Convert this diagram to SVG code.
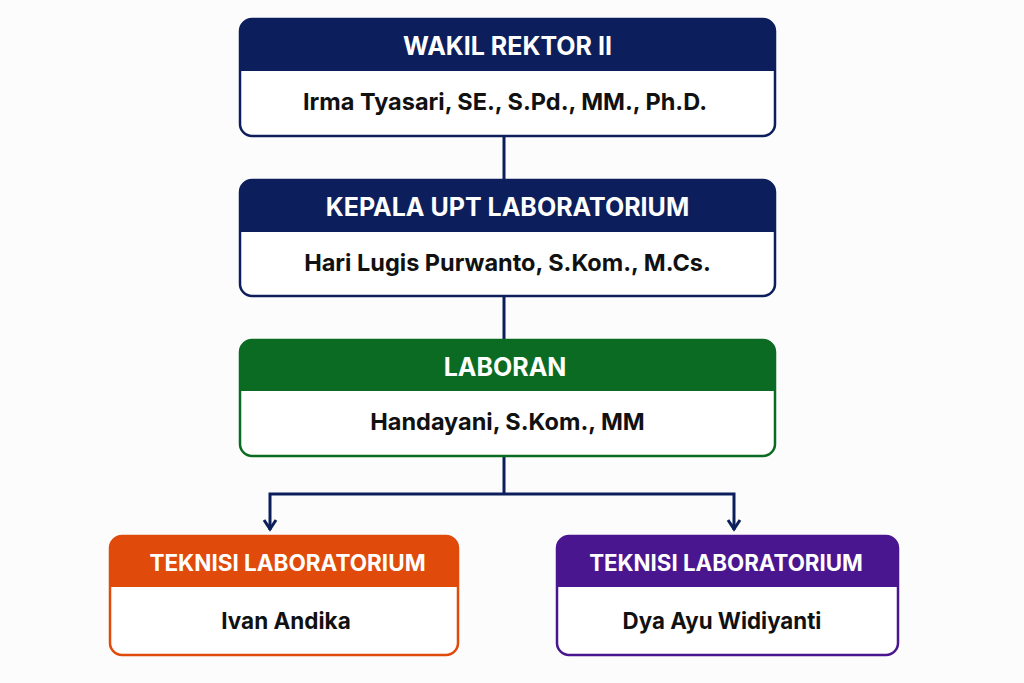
<svg xmlns="http://www.w3.org/2000/svg" width="1024" height="683" viewBox="0 0 1024 683">
<style>
.hd{font-family:Inter,"Liberation Sans",sans-serif;font-weight:700;font-size:25px;fill:#fff;text-anchor:middle}
.bd{font-family:Inter,"Liberation Sans",sans-serif;font-weight:700;font-size:23.5px;fill:#111;text-anchor:middle}
.sm{font-size:22.5px}
.sb{font-size:22.3px}
.ln{stroke:#0c1f5c;stroke-width:3;fill:none}
</style>
<rect width="1024" height="683" fill="#fcfcfc"/>
<g id="connectors">
<line class="ln" x1="504" y1="136" x2="504" y2="180"/>
<line class="ln" x1="504" y1="296" x2="504" y2="340"/>
<line class="ln" x1="504" y1="456" x2="504" y2="494"/>
<polyline class="ln" points="270,530 270,494 734,494 734,530"/>
<path d="M264 520 L270 529 L276 520" class="ln"/>
<path d="M728 520 L734 529 L740 520" class="ln"/>
</g>
<g id="wakil">
<rect x="240" y="19" width="535" height="117" rx="12" fill="#fff" stroke="#0c1f5c" stroke-width="2.5"/>
<path d="M240 71 V31 A12 12 0 0 1 252 19 H763 A12 12 0 0 1 775 31 V71 Z" fill="#0c1f5c"/>
<text class="hd" x="507.5" y="55">WAKIL REKTOR II</text>
<text class="bd" x="505" y="110">Irma Tyasari, SE., S.Pd., MM., Ph.D.</text>
</g>
<g id="kepala">
<rect x="240" y="180" width="535" height="116" rx="12" fill="#fff" stroke="#0c1f5c" stroke-width="2.5"/>
<path d="M240 232 V192 A12 12 0 0 1 252 180 H763 A12 12 0 0 1 775 192 V232 Z" fill="#0c1f5c"/>
<text class="hd" x="507.5" y="216">KEPALA UPT LABORATORIUM</text>
<text class="bd" x="507.5" y="271">Hari Lugis Purwanto, S.Kom., M.Cs.</text>
</g>
<g id="laboran">
<rect x="240" y="340" width="535" height="116" rx="12" fill="#fff" stroke="#0b6b22" stroke-width="2.5"/>
<path d="M240 391 V352 A12 12 0 0 1 252 340 H763 A12 12 0 0 1 775 352 V391 Z" fill="#0b6b22"/>
<text class="hd" x="505" y="376">LABORAN</text>
<text class="bd" x="507.5" y="430">Handayani, S.Kom., MM</text>
</g>
<g id="teknisi1">
<rect x="110" y="536" width="348" height="119" rx="12" fill="#fff" stroke="#e04a0a" stroke-width="2.5"/>
<path d="M110 587 V548 A12 12 0 0 1 122 536 H446 A12 12 0 0 1 458 548 V587 Z" fill="#e04a0a"/>
<text class="hd sm" x="287.5" y="571">TEKNISI LABORATORIUM</text>
<text class="bd sm" x="286" y="629">Ivan Andika</text>
</g>
<g id="teknisi2">
<rect x="557" y="536" width="341" height="119" rx="12" fill="#fff" stroke="#4a1690" stroke-width="2.5"/>
<path d="M557 587 V548 A12 12 0 0 1 569 536 H886 A12 12 0 0 1 898 548 V587 Z" fill="#4a1690"/>
<text class="hd sb" x="726" y="571">TEKNISI LABORATORIUM</text>
<text class="bd sb" x="722" y="629">Dya Ayu Widiyanti</text>
</g>
</svg>
